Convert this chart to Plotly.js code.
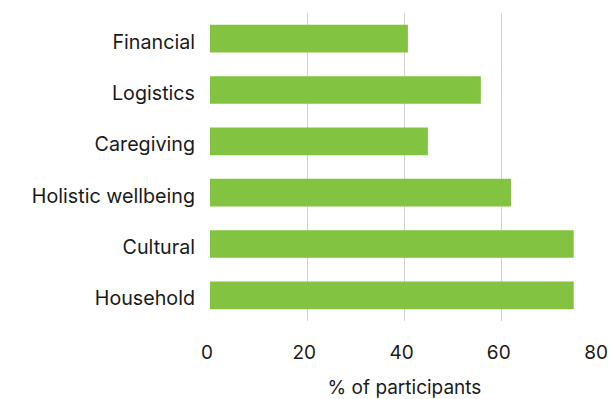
<!DOCTYPE html>
<html>
<head>
<meta charset="utf-8">
<script src="https://cdn.plot.ly/plotly-3.0.1.min.js"></script>
<style>html,body{margin:0;padding:0;background:#fff;}#chart{width:611px;height:399px;}</style>
</head>
<body>
<div id="chart"></div>
<script>
const categories = ["Financial", "Logistics", "Caregiving", "Holistic wellbeing", "Cultural", "Household"];
const values = [40.7, 55.7, 44.8, 61.9, 74.8, 74.8];
const xTickVals = [0, 20, 40, 60, 80];
const xTitle = "% of participants";

const trace = {
  type: "bar",
  orientation: "h",
  y: categories,
  x: values,
  width: 0.54,
  marker: {color: "#82c341"},
  hoverinfo: "none"
};

const layout = {
  width: 611,
  height: 399,
  margin: {l: 210, r: 12, t: 13, b: 78},
  paper_bgcolor: "#fff",
  plot_bgcolor: "#fff",
  showlegend: false,
  font: {family: "Inter, Roboto, sans-serif", color: "#1a1a1a", size: 18},
  xaxis: {
    range: [0, 80],
    tickvals: xTickVals,
    ticktext: xTickVals.map(String),
    showgrid: true,
    gridcolor: "#d2d2d2",
    gridwidth: 1,
    zeroline: false,
    showline: false,
    ticks: "",
    tickfont: {size: 19},
    ticklabelstandoff: 18,
    ticklabelshift: -3,
    title: {text: xTitle, font: {size: 19}, standoff: 25}
  },
  yaxis: {
    categoryorder: "array",
    categoryarray: categories.slice().reverse(),
    autorange: false,
    range: [-0.5, 5.5],
    showgrid: false,
    zeroline: false,
    showline: false,
    ticks: "",
    tickfont: {size: 19.7},
    ticklabelstandoff: 14,
    ticklabelshift: 3
  }
};

Plotly.newPlot("chart", [trace], layout, {displayModeBar: false, staticPlot: true});
</script>
</body>
</html>
